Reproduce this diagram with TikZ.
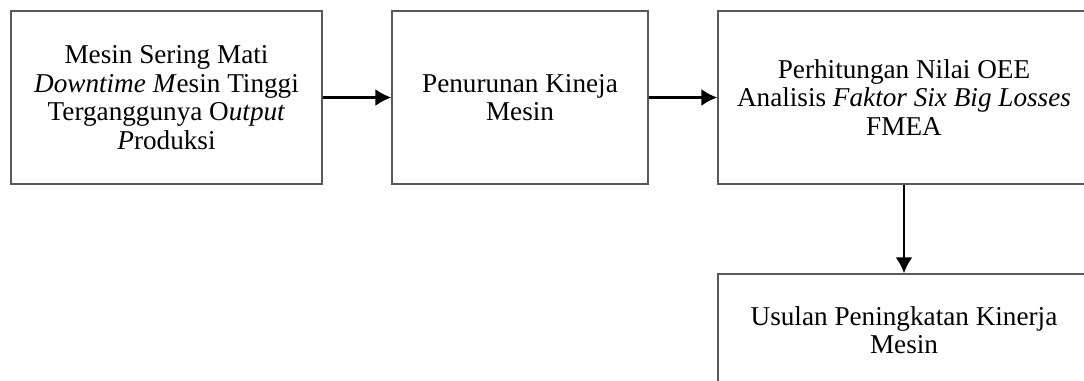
\documentclass[tikz,border=0pt]{standalone}
\usepackage{fontspec}
\setmainfont{Liberation Serif}
\usetikzlibrary{arrows.meta}

\begin{document}
\begin{tikzpicture}[
                x = 0.5pt, y = -0.5pt,
                > = {Latex[length=8pt, width=8.5pt]},
                box/.style={ rectangle, draw = black!65, line width = .7pt, align = center, inner sep = 0pt,
                             font = \fontsize{13.6}{14.3}\selectfont },
                link/.style={ ->, line width = 1.1pt }
            ]
            \useasboundingbox (0, 0) rectangle (1084, 381);

            \node (masalah)  [box, minimum width = 155.5pt, minimum height = 86.5pt] at (166.5, 97.5)
                {Mesin Sering Mati\\ \textit{Downtime M}esin Tinggi\\ Terganggunya O\textit{utput}\\ \textit{P}roduksi};
            \node (kinerja)  [box, minimum width = 128pt, minimum height = 86.5pt] at (520, 97.5)
                {Penurunan Kineja\\ Mesin};
            \node (analisis) [box, minimum width = 186pt, minimum height = 86.5pt] at (904, 97.5)
                {Perhitungan Nilai OEE\\ Analisis \textit{Faktor Six Big Losses}\\ FMEA};
            \node (usulan)   [box, minimum width = 186pt, minimum height = 56pt] at (904, 330)
                {Usulan Peningkatan Kinerja\\ Mesin};

            \draw [link] (masalah)  -> (kinerja);
            \draw [link] (kinerja)  -> (analisis);
            \draw [link] (analisis) -> (usulan);
        \end{tikzpicture}
\end{document}
